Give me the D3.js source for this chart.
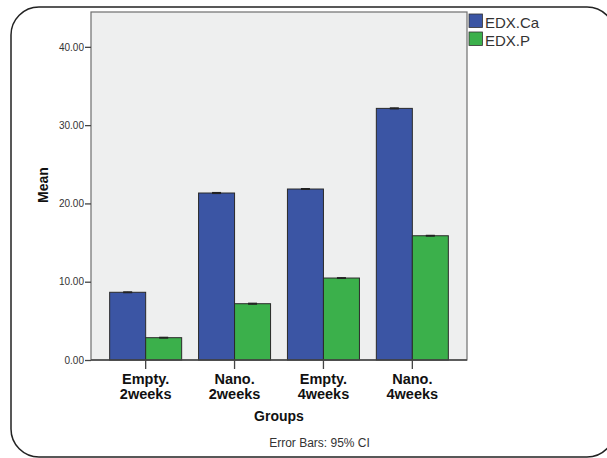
<!DOCTYPE html>
<html><head><meta charset="utf-8">
<script src="https://cdn.jsdelivr.net/npm/d3@7"></script>
<style>body{margin:0;background:#fff}svg{display:block}</style>
</head><body>
<script>
const groups = ["Empty. 2weeks", "Nano. 2weeks", "Empty. 4weeks", "Nano. 4weeks"];
const groupLines = [["Empty.", "2weeks"], ["Nano.", "2weeks"], ["Empty.", "4weeks"], ["Nano.", "4weeks"]];
const seriesNames = ["EDX.Ca", "EDX.P"];
const edxCa = [8.65, 21.33, 21.84, 32.14];
const edxP = [2.85, 7.19, 10.47, 15.87];
const ciCa = [0.05, 0.06, 0.05, 0.06];
const ciP = [0.05, 0.06, 0.04, 0.05];
const yTicks = [0, 10, 20, 30, 40];
const colors = ["#3b55a4", "#3bb04b"];

(function () {
const W = 607, H = 458;
const svg = d3.select("body").append("svg").attr("width", W).attr("height", H);
const font = "'Liberation Sans', Arial, sans-serif";

// outer rounded frame
svg.append("rect").attr("x", 11).attr("y", 7).attr("width", 604).attr("height", 450)
  .attr("rx", 28).attr("ry", 28).attr("fill", "none").attr("stroke", "#222").attr("stroke-width", 1.5);

const pL = 91, pR = 467, pT = 12, pB = 360;
const y = d3.scaleLinear().domain([0, 44.45]).range([pB, pT]);
const x = d3.scaleBand().domain(groups).range([pL, pR]).paddingInner(0.19).paddingOuter(0.21);
const xs = d3.scaleBand().domain(seriesNames).range([0, x.bandwidth()]);

svg.append("rect").attr("x", pL).attr("y", pT).attr("width", pR - pL).attr("height", pB - pT)
  .attr("fill", "#eeefef").attr("stroke", "#6e6e6e").attr("stroke-width", 1.2);

const data = [];
groups.forEach((g, i) => {
  data.push({g, s: seriesNames[0], v: edxCa[i], ci: ciCa[i], c: colors[0]});
  data.push({g, s: seriesNames[1], v: edxP[i], ci: ciP[i], c: colors[1]});
});

svg.selectAll("rect.bar").data(data).enter().append("rect").attr("class", "bar")
  .attr("x", d => x(d.g) + xs(d.s)).attr("width", xs.bandwidth())
  .attr("y", d => y(d.v)).attr("height", d => y(0) - y(d.v))
  .attr("fill", d => d.c).attr("stroke", "#2a2a2a").attr("stroke-width", 1);

// error bars
const cx = d => x(d.g) + xs(d.s) + xs.bandwidth() / 2;
const eb = svg.selectAll("g.eb").data(data).enter().append("g").attr("class", "eb");
eb.append("line").attr("x1", cx).attr("x2", cx)
  .attr("y1", d => y(d.v + d.ci)).attr("y2", d => y(d.v - d.ci)).attr("stroke", "#222").attr("stroke-width", 1);
[1, -1].forEach(sg => {
  eb.append("line").attr("x1", d => cx(d) - 4.5).attr("x2", d => cx(d) + 4.5)
    .attr("y1", d => y(d.v + sg * d.ci)).attr("y2", d => y(d.v + sg * d.ci)).attr("stroke", "#222").attr("stroke-width", 1.2);
});

// y axis
const yAxis = svg.append("g").attr("transform", `translate(${pL},0)`)
  .call(d3.axisLeft(y).tickValues(yTicks).tickFormat(d3.format(".2f")).tickSize(6).tickPadding(1));
yAxis.select(".domain").remove();
yAxis.selectAll("line").attr("stroke", "#444").attr("stroke-width", 1.3);
yAxis.selectAll("text").attr("font-family", font).attr("font-size", 10).attr("fill", "#333");

// x axis
const xAxis = svg.append("g").attr("transform", `translate(0,${pB})`)
  .call(d3.axisBottom(x).tickSize(9).tickFormat(""));
xAxis.select(".domain").attr("stroke", "#444").attr("stroke-width", 1.3).attr("d", `M${pL},0H${pR}`);
xAxis.selectAll("line").attr("stroke", "#444").attr("stroke-width", 1.3);
groups.forEach((g, i) => {
  groupLines[i].forEach((ln, k) => svg.append("text")
    .attr("x", x(g) + x.bandwidth() / 2).attr("y", k ? 399 : 383.5)
    .attr("text-anchor", "middle").attr("font-family", font).attr("font-size", 14.5)
    .attr("font-weight", "bold").attr("fill", "#111").text(ln));
});

svg.append("text").attr("x", (pL + pR) / 2).attr("y", 421).attr("text-anchor", "middle")
  .attr("font-family", font).attr("font-size", 14).attr("font-weight", "bold").attr("fill", "#111").text("Groups");
svg.append("text").attr("transform", "translate(48,185) rotate(-90)").attr("text-anchor", "middle")
  .attr("font-family", font).attr("font-size", 14).attr("font-weight", "bold").attr("fill", "#111").text("Mean");
svg.append("text").attr("x", 319.5).attr("y", 447).attr("text-anchor", "middle")
  .attr("font-family", font).attr("font-size", 12).attr("fill", "#333").text("Error Bars: 95% CI");

// legend
const lg = svg.selectAll("g.lg").data(seriesNames).enter().append("g").attr("class", "lg")
  .attr("transform", (d, i) => `translate(469,${14 + i * 18})`);
lg.append("rect").attr("width", 13.5).attr("height", 13.5).attr("fill", (d, i) => colors[i])
  .attr("stroke", "#333").attr("stroke-width", 0.8);
lg.append("text").attr("x", 16).attr("y", 14).attr("font-family", font).attr("font-size", 15)
  .attr("fill", "#333").text(d => d);
})();
</script>
</body></html>
